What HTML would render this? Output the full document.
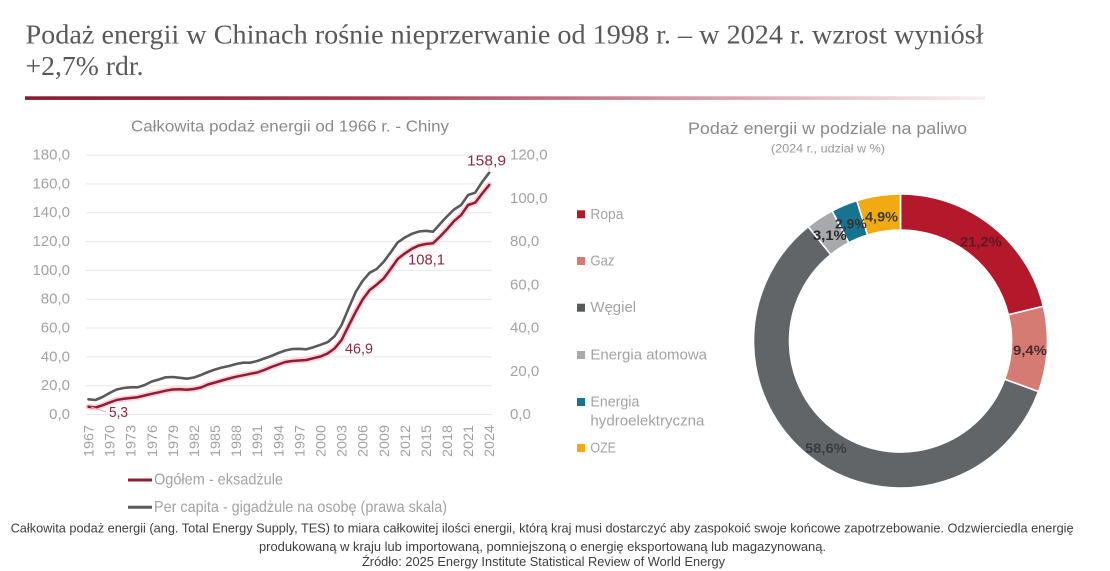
<!DOCTYPE html>
<html><head><meta charset="utf-8"><style>
html,body{margin:0;padding:0;background:#fff;}
svg{display:block;}
text{font-family:"Liberation Sans",sans-serif;}
</style></head><body>
<svg width="1110" height="571" viewBox="0 0 1110 571" xmlns="http://www.w3.org/2000/svg">
<defs>
<linearGradient id="rule" x1="0" x2="1" y1="0" y2="0">
<stop offset="0" stop-color="#861a2e"/>
<stop offset="0.35" stop-color="#a8374c"/>
<stop offset="0.7" stop-color="#d59aa5"/>
<stop offset="1" stop-color="#f7f0f1"/>
</linearGradient>
</defs>
<rect width="1110" height="571" fill="#fff"/>
<!-- Title -->
<text x="25.5" y="43.5" font-family="Liberation Serif, serif" font-size="27" fill="#595959" textLength="958" lengthAdjust="spacingAndGlyphs" style="font-family:'Liberation Serif',serif">Podaż energii w Chinach rośnie nieprzerwanie od 1998 r. – w 2024 r. wzrost wyniósł</text>
<text x="25.5" y="75" font-size="27" fill="#595959" textLength="118" lengthAdjust="spacingAndGlyphs" style="font-family:'Liberation Serif',serif">+2,7% rdr.</text>
<rect x="25" y="96.3" width="960" height="3.6" fill="url(#rule)"/>

<!-- Left chart title -->
<text x="131" y="127" dominant-baseline="central" font-size="16" fill="#8a8a8a" textLength="318" lengthAdjust="spacingAndGlyphs">Całkowita podaż energii od 1966 r. - Chiny</text>

<!-- gridlines -->
<g stroke="#e8e8e8" stroke-width="1">
<line x1="86" x2="492" y1="155.1" y2="155.1"/>
<line x1="86" x2="492" y1="183.9" y2="183.9"/>
<line x1="86" x2="492" y1="212.7" y2="212.7"/>
<line x1="86" x2="492" y1="241.6" y2="241.6"/>
<line x1="86" x2="492" y1="270.4" y2="270.4"/>
<line x1="86" x2="492" y1="299.2" y2="299.2"/>
<line x1="86" x2="492" y1="328.0" y2="328.0"/>
<line x1="86" x2="492" y1="356.9" y2="356.9"/>
<line x1="86" x2="492" y1="385.7" y2="385.7"/>
<line x1="86" x2="492" y1="414.5" y2="414.5"/>
</g>

<!-- left axis labels -->
<g font-size="15" fill="#a3a3a3" text-anchor="end" dominant-baseline="central">
<text x="70" y="155.1">180,0</text>
<text x="70" y="183.9">160,0</text>
<text x="70" y="212.7">140,0</text>
<text x="70" y="241.6">120,0</text>
<text x="70" y="270.4">100,0</text>
<text x="70" y="299.2">80,0</text>
<text x="70" y="328.0">60,0</text>
<text x="70" y="356.9">40,0</text>
<text x="70" y="385.7">20,0</text>
<text x="70" y="414.5">0,0</text>
</g>
<!-- right axis labels -->
<g font-size="15" fill="#a3a3a3" dominant-baseline="central">
<text x="510" y="155.1">120,0</text>
<text x="510" y="198.3">100,0</text>
<text x="510" y="241.6">80,0</text>
<text x="510" y="284.8">60,0</text>
<text x="510" y="328.0">40,0</text>
<text x="510" y="371.3">20,0</text>
<text x="510" y="414.5">0,0</text>
</g>

<!-- year labels -->
<g font-size="14" fill="#a3a3a3">
<text transform="translate(93.5,457) rotate(-90)" textLength="32" lengthAdjust="spacingAndGlyphs">1967</text>
<text transform="translate(114.6,457) rotate(-90)" textLength="32" lengthAdjust="spacingAndGlyphs">1970</text>
<text transform="translate(135.7,457) rotate(-90)" textLength="32" lengthAdjust="spacingAndGlyphs">1973</text>
<text transform="translate(156.8,457) rotate(-90)" textLength="32" lengthAdjust="spacingAndGlyphs">1976</text>
<text transform="translate(177.9,457) rotate(-90)" textLength="32" lengthAdjust="spacingAndGlyphs">1979</text>
<text transform="translate(198.9,457) rotate(-90)" textLength="32" lengthAdjust="spacingAndGlyphs">1982</text>
<text transform="translate(220.0,457) rotate(-90)" textLength="32" lengthAdjust="spacingAndGlyphs">1985</text>
<text transform="translate(241.1,457) rotate(-90)" textLength="32" lengthAdjust="spacingAndGlyphs">1988</text>
<text transform="translate(262.2,457) rotate(-90)" textLength="32" lengthAdjust="spacingAndGlyphs">1991</text>
<text transform="translate(283.3,457) rotate(-90)" textLength="32" lengthAdjust="spacingAndGlyphs">1994</text>
<text transform="translate(304.4,457) rotate(-90)" textLength="32" lengthAdjust="spacingAndGlyphs">1997</text>
<text transform="translate(325.5,457) rotate(-90)" textLength="32" lengthAdjust="spacingAndGlyphs">2000</text>
<text transform="translate(346.6,457) rotate(-90)" textLength="32" lengthAdjust="spacingAndGlyphs">2003</text>
<text transform="translate(367.7,457) rotate(-90)" textLength="32" lengthAdjust="spacingAndGlyphs">2006</text>
<text transform="translate(388.8,457) rotate(-90)" textLength="32" lengthAdjust="spacingAndGlyphs">2009</text>
<text transform="translate(409.9,457) rotate(-90)" textLength="32" lengthAdjust="spacingAndGlyphs">2012</text>
<text transform="translate(430.9,457) rotate(-90)" textLength="32" lengthAdjust="spacingAndGlyphs">2015</text>
<text transform="translate(452.0,457) rotate(-90)" textLength="32" lengthAdjust="spacingAndGlyphs">2018</text>
<text transform="translate(473.1,457) rotate(-90)" textLength="32" lengthAdjust="spacingAndGlyphs">2021</text>
<text transform="translate(494.2,457) rotate(-90)" textLength="32" lengthAdjust="spacingAndGlyphs">2024</text>
</g>

<!-- gray line (per capita) -->
<polyline fill="none" stroke="#5a5a5a" stroke-width="2.6" stroke-linejoin="round" stroke-linecap="round" points="88.5,399.3 95.53,400 102.56,397 109.59,393 116.62,389.5 123.65,388 130.68,387.3 137.71,387.3 144.74,385 151.77,381.5 158.8,379.5 165.83,377.3 172.86,377 179.89,377.8 186.92,378.7 193.95,377.5 200.98,375 208.01,372 215.04,369.5 222.07,367.5 229.1,366 236.13,364 243.16,362.7 250.19,362.7 257.22,361 264.25,358.5 271.28,356 278.31,353 285.34,350.5 292.37,349 299.4,348.8 306.43,349.3 313.46,347.2 320.49,344.8 327.52,342.2 334.55,336.3 341.58,325 348.61,308.3 355.64,292.1 362.67,280.8 369.7,272.7 376.73,269 383.76,261.7 390.79,252.2 397.82,242.3 404.85,237.5 411.88,233.8 418.91,231.5 425.94,230.8 432.97,231.7 440,224 447.03,216.4 454.06,209.5 461.09,205 468.12,195 475.15,192.7 482.18,182 489.21,172.7"/>

<!-- red line (total) with glow -->
<polyline fill="none" stroke="#f6c9d0" stroke-width="6" stroke-linejoin="round" stroke-linecap="round" opacity="0.8" points="88.5,406.7 95.53,407.5 102.56,405.3 109.59,402.5 116.62,400 123.65,398.8 130.68,398 137.71,397.2 144.74,395.5 151.77,393.8 158.8,392.3 165.83,390.7 172.86,389.5 179.89,389.3 186.92,389.8 193.95,389 200.98,387.5 208.01,384.5 215.04,382.5 222.07,380.5 229.1,378.5 236.13,376.7 243.16,375.3 250.19,373.8 257.22,372.5 264.25,370 271.28,367 278.31,364.5 285.34,362 292.37,361 299.4,360.5 306.43,360 313.46,358.2 320.49,356.5 327.52,353.5 334.55,348.5 341.58,340 348.61,325.8 355.64,312 362.67,299.5 369.7,290 376.73,284.6 383.76,278.4 390.79,268.9 397.82,258.9 404.85,253.4 411.88,248.8 418.91,245.5 425.94,244 432.97,243.3 440,236.6 447.03,229.2 454.06,221.1 461.09,215.1 468.12,205 475.15,202.7 482.18,193.5 489.21,185"/>
<polyline fill="none" stroke="#8e1d35" stroke-width="2.5" stroke-linejoin="round" stroke-linecap="round" points="88.5,406.7 95.53,407.5 102.56,405.3 109.59,402.5 116.62,400 123.65,398.8 130.68,398 137.71,397.2 144.74,395.5 151.77,393.8 158.8,392.3 165.83,390.7 172.86,389.5 179.89,389.3 186.92,389.8 193.95,389 200.98,387.5 208.01,384.5 215.04,382.5 222.07,380.5 229.1,378.5 236.13,376.7 243.16,375.3 250.19,373.8 257.22,372.5 264.25,370 271.28,367 278.31,364.5 285.34,362 292.37,361 299.4,360.5 306.43,360 313.46,358.2 320.49,356.5 327.52,353.5 334.55,348.5 341.58,340 348.61,325.8 355.64,312 362.67,299.5 369.7,290 376.73,284.6 383.76,278.4 390.79,268.9 397.82,258.9 404.85,253.4 411.88,248.8 418.91,245.5 425.94,244 432.97,243.3 440,236.6 447.03,229.2 454.06,221.1 461.09,215.1 468.12,205 475.15,202.7 482.18,193.5 489.21,185"/>

<!-- data labels -->
<line x1="91" y1="407" x2="106" y2="412" stroke="#e0b8c0" stroke-width="1"/>
<line x1="489" y1="166" x2="489" y2="172" stroke="#c8c8c8" stroke-width="1"/>
<g font-size="15" fill="#8b2a40" dominant-baseline="central">
<text x="109" y="412.7" textLength="19" lengthAdjust="spacingAndGlyphs">5,3</text>
<text x="345" y="349" textLength="28" lengthAdjust="spacingAndGlyphs">46,9</text>
<text x="408" y="260" textLength="37" lengthAdjust="spacingAndGlyphs">108,1</text>
<text x="467" y="161" textLength="39" lengthAdjust="spacingAndGlyphs">158,9</text>
</g>

<!-- left legend -->
<line x1="128" x2="152" y1="480" y2="480" stroke="#8e1d35" stroke-width="3"/>
<line x1="128" x2="152" y1="507.3" y2="507.3" stroke="#5a5a5a" stroke-width="3"/>
<g font-size="16" fill="#a3a3a3" dominant-baseline="central">
<text x="154" y="480" textLength="129" lengthAdjust="spacingAndGlyphs">Ogółem - eksadżule</text>
<text x="154" y="507.3" textLength="293" lengthAdjust="spacingAndGlyphs">Per capita - gigadżule na osobę (prawa skala)</text>
</g>

<!-- Right chart titles -->
<text x="688" y="128.3" dominant-baseline="central" font-size="17" fill="#8a8a8a" textLength="279" lengthAdjust="spacingAndGlyphs">Podaż energii w podziale na paliwo</text>
<text x="771" y="148.3" dominant-baseline="central" font-size="12" fill="#9a9a9a" textLength="114" lengthAdjust="spacingAndGlyphs">(2024 r., udział w %)</text>

<!-- right legend -->
<rect x="577" y="210.3" width="8" height="8" fill="#b3182b"/>
<rect x="577" y="257" width="8" height="8" fill="#d67b73"/>
<rect x="577" y="303.7" width="8" height="8" fill="#55585b"/>
<rect x="577" y="351" width="8" height="8" fill="#a7a9ac"/>
<rect x="577" y="398" width="8" height="8" fill="#167490"/>
<rect x="577" y="444" width="8" height="8" fill="#f1aa12"/>
<g font-size="15" fill="#a3a3a3" dominant-baseline="central">
<text x="590.4" y="214.3" textLength="33" lengthAdjust="spacingAndGlyphs">Ropa</text>
<text x="590.4" y="261" textLength="24" lengthAdjust="spacingAndGlyphs">Gaz</text>
<text x="590.4" y="307.7" textLength="45.7" lengthAdjust="spacingAndGlyphs">Węgiel</text>
<text x="590.4" y="355" textLength="116.6" lengthAdjust="spacingAndGlyphs">Energia atomowa</text>
<text x="590.4" y="402" textLength="49" lengthAdjust="spacingAndGlyphs">Energia</text>
<text x="590.4" y="421" textLength="114" lengthAdjust="spacingAndGlyphs">hydroelektryczna</text>
<text x="590.4" y="448" textLength="25.6" lengthAdjust="spacingAndGlyphs">OZE</text>
</g>

<!-- donut -->
<g stroke="#fff" stroke-width="1.6" stroke-linejoin="round">
<path fill="#b3182b" d="M900.5,194 A147,147 0 0 1 1043.33,306.23 L1008.35,314.75 A111,111 0 0 0 900.5,230 Z"/>
<path fill="#d67b73" d="M1043.33,306.23 A147,147 0 0 1 1038.5,391.66 L1004.7,379.26 A111,111 0 0 0 1008.35,314.75 Z"/>
<path fill="#626567" d="M1038.5,391.66 A147,147 0 1 1 808.22,226.57 L830.82,254.6 A111,111 0 1 0 1004.7,379.26 Z"/>
<path fill="#a7a9ac" d="M808.22,226.57 A147,147 0 0 1 832.13,210.87 L848.87,242.74 A111,111 0 0 0 830.82,254.6 Z"/>
<path fill="#167490" d="M832.13,210.87 A147,147 0 0 1 856.83,200.64 L867.53,235.01 A111,111 0 0 0 848.87,242.74 Z"/>
<path fill="#f1aa12" d="M856.83,200.64 A147,147 0 0 1 900.5,194 L900.5,230 A111,111 0 0 0 867.53,235.01 Z"/>
</g>
<g font-size="14" font-weight="bold" dominant-baseline="central">
<text x="960" y="241.7" fill="#5e1a24" textLength="41.7" lengthAdjust="spacingAndGlyphs">21,2%</text>
<text x="1013" y="350" fill="#4a2b2b" textLength="34" lengthAdjust="spacingAndGlyphs">9,4%</text>
<text x="805" y="448" fill="#3a3b3c" textLength="41.7" lengthAdjust="spacingAndGlyphs">58,6%</text>
<text x="813" y="235" fill="#2a2a2a" textLength="33.7" lengthAdjust="spacingAndGlyphs">3,1%</text>
<text x="835" y="223.3" fill="#333" textLength="31.7" lengthAdjust="spacingAndGlyphs">2,9%</text>
<text x="865" y="216.7" fill="#3e3a30" textLength="33" lengthAdjust="spacingAndGlyphs">4,9%</text>
</g>

<!-- footer -->
<g font-size="12.5" fill="#404040" dominant-baseline="central">
<text x="10.6" y="528.5" textLength="1063" lengthAdjust="spacingAndGlyphs">Całkowita podaż energii (ang. Total Energy Supply, TES) to miara całkowitej ilości energii, którą kraj musi dostarczyć aby zaspokoić swoje końcowe zapotrzebowanie. Odzwierciedla energię</text>
<text x="259" y="547" textLength="567" lengthAdjust="spacingAndGlyphs">produkowaną w kraju lub importowaną, pomniejszoną o energię eksportowaną lub magazynowaną.</text>
<text x="362" y="562" textLength="363" lengthAdjust="spacingAndGlyphs">Źródło: 2025 Energy Institute Statistical Review of World Energy</text>
</g>
</svg>
</body></html>
